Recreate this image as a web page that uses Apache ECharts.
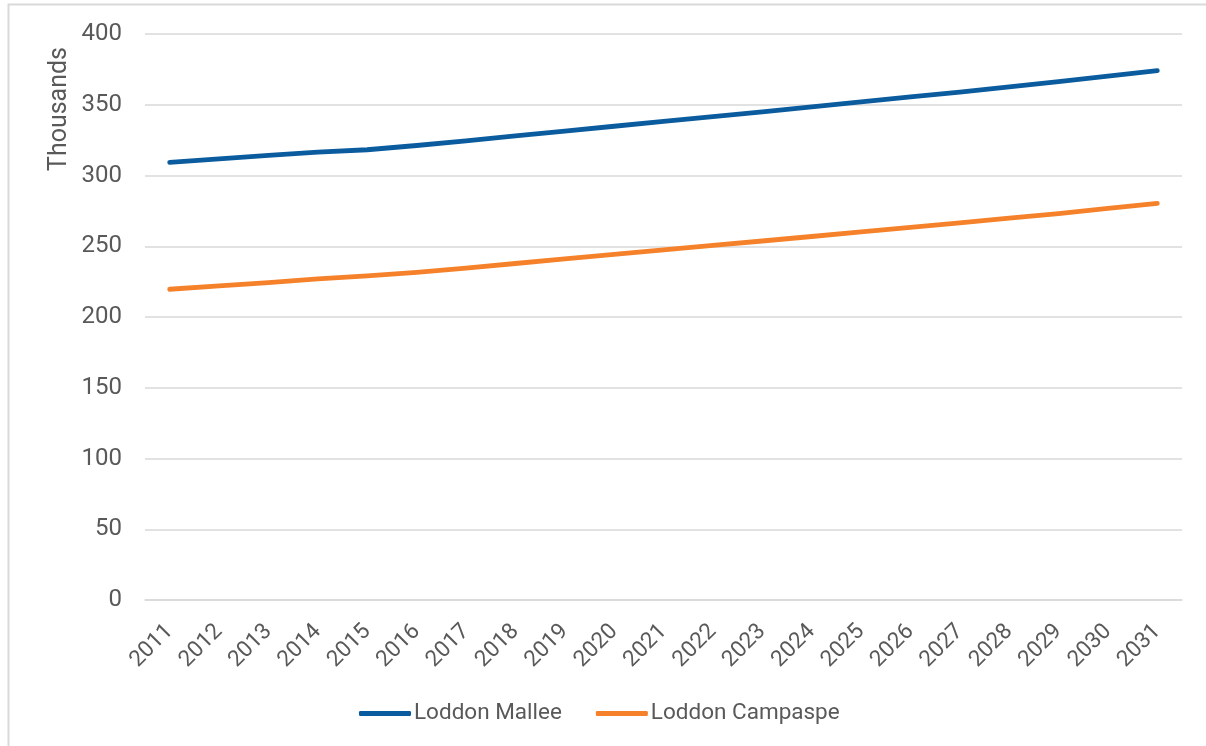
<!DOCTYPE html>
<html>
<head>
<meta charset="utf-8">
<script src="https://cdn.jsdelivr.net/npm/echarts@6/dist/echarts.min.js"></script>
<style>
  html, body { margin: 0; padding: 0; background: #fff; }
  #chart { width: 1206px; height: 746px; }
</style>
</head>
<body>
<div id="chart"></div>
<script>
// Population projections (thousands) by region, 2011–2031
const years = ['2011','2012','2013','2014','2015','2016','2017','2018','2019','2020','2021',
               '2022','2023','2024','2025','2026','2027','2028','2029','2030','2031'];
const loddonMallee = [309.3, 311.8, 314.2, 316.5, 318.2, 321.2, 324.5, 328.0, 331.4, 334.8, 338.2,
                      341.6, 345.0, 348.5, 352.0, 355.5, 359.0, 362.7, 366.4, 370.2, 374.1];
const loddonCampaspe = [219.6, 222.0, 224.3, 227.0, 229.0, 231.5, 234.6, 237.8, 241.0, 244.2, 247.4,
                        250.6, 253.7, 256.9, 260.1, 263.3, 266.5, 269.8, 273.1, 276.7, 280.3];
const yTicks = { min: 0, max: 400, interval: 50 };

const FONT = 'Roboto, "Noto Sans", sans-serif';
const TEXT = '#595959';

const chart = echarts.init(document.getElementById('chart'), null, { renderer: 'canvas' });

function lineSeries(name, data, color) {
  return {
    name: name,
    type: 'line',
    data: data,
    symbol: 'none',
    smooth: false,
    lineStyle: { color: color, width: 4.8, cap: 'round', join: 'round' },
    itemStyle: { color: color },
    emphasis: { disabled: true }
  };
}

chart.setOption({
  animation: false,
  backgroundColor: '#fff',
  textStyle: { fontFamily: FONT },
  grid: { left: 145, right: 24, top: 34, bottom: 146, containLabel: false },
  graphic: [
    {
      type: 'rect',
      shape: { x: 8.5, y: 4.5, width: 1400, height: 900 },
      style: { fill: 'none', stroke: '#d9d9d9', lineWidth: 2 },
      silent: true
    },
    {
      type: 'text',
      x: 60, y: 109,
      rotation: Math.PI / 2,
      style: {
        text: 'Thousands',
        fill: TEXT,
        font: '25px ' + FONT,
        align: 'center',
        verticalAlign: 'middle'
      }
    }
  ],
  legend: {
    bottom: 16,
    left: 354,
    itemWidth: 52,
    itemHeight: 5,
    itemGap: 34,
    icon: 'roundRect',
    textStyle: { color: TEXT, fontSize: 22.5, fontFamily: FONT, padding: [0, 0, 0, -2] },
    data: ['Loddon Mallee', 'Loddon Campaspe']
  },
  xAxis: {
    type: 'category',
    data: years,
    boundaryGap: true,
    axisLine: { show: true, lineStyle: { color: '#d9d9d9', width: 1.5 } },
    axisTick: { show: false },
    axisLabel: {
      rotate: 45,
      color: TEXT,
      fontSize: 22.5,
      fontFamily: FONT,
      margin: 28,
      interval: 0
    }
  },
  yAxis: {
    type: 'value',
    min: yTicks.min,
    max: yTicks.max,
    interval: yTicks.interval,
    axisLine: { show: false },
    axisTick: { show: false },
    splitLine: { lineStyle: { color: '#d9d9d9', width: 1.5 } },
    axisLabel: { color: TEXT, fontSize: 24, fontFamily: FONT, margin: 23 }
  },
  series: [
    lineSeries('Loddon Mallee', loddonMallee, '#0B5C9E'),
    lineSeries('Loddon Campaspe', loddonCampaspe, '#F5822A')
  ]
});
</script>
</body>
</html>
